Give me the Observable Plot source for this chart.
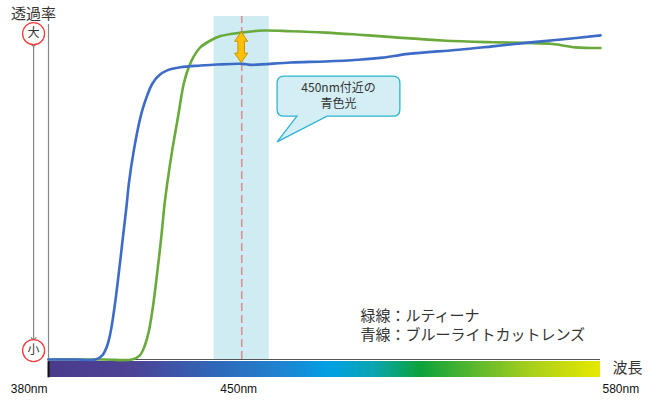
<!DOCTYPE html>
<html><head><meta charset="utf-8">
<script src="https://cdn.jsdelivr.net/npm/d3@7"></script>
<script src="https://cdn.jsdelivr.net/npm/@observablehq/plot@0.6"></script>
<style>
body{margin:0;background:#fff;}
svg{overflow:visible;}
</style></head>
<body><div id="chart"></div>
<script>
// Blue-light-cut lens transmittance (nm, %)
const blueNm = [380,390,397,399.5,401.3,402.5,404,405.5,406.9,408.3,409.1,410.9,413.3,415.1,417.6,420,423,427.8,435.1,441.2,450.3,453.2,467.7,480.4,492.3,501,510.4,528.6,540.9,552.8,564.8,580];
const blueT  = [0,0,0,1.2,4.1,8.0,15.7,25.4,35.2,44.9,51.2,60.9,70.6,75.5,80.4,82.8,84.3,85.2,85.7,86.0,86.2,85.9,86.6,86.9,87.4,88.0,89.1,90.3,91.3,92.3,93.2,94.5];
// Lutina lens transmittance
const greenNm = [380,400,410.3,413.1,414.9,416.3,417.9,419.4,420.8,422,423,424.8,426.9,429,430.8,432.6,435,438.7,442.3,449.6,457.9,467.7,480.4,492.3,504.6,522.8,540.9,552.8,562.6,570.9,580];
const greenT  = [0,0,0,1.2,4.1,8.0,15.7,25.4,35.2,44.9,51.2,60.9,70.6,80.4,85.2,88.3,91.0,93.0,94.3,95.3,95.9,95.7,95.3,94.7,94.0,93.0,92.5,92.3,92.0,91.0,90.8];
// spectrum colour stops
const specNm = [380,410,440,465,482,498,515,535,555,580];
const specColors = ["#4a3a8c","#4d4294","#2f66b8","#1e84d0","#00a0e4","#0aa6b0","#0ca23a","#5cb82e","#a8d01c","#e8e800"];
// highlighted band
const bandNm = [440,460];
const peakNm = 450;
const tickLabels = [{nm:380,label:"380nm"},{nm:450,label:"450nm"},{nm:580,label:"580nm"}];
const legendLines = ["緑線：ルティーナ","青線：ブルーライトカットレンズ"];
const calloutLines = ["450nm付近の","青色光"];

const blue = blueNm.map((x,i)=>({x,y:blueT[i]}));
const green = greenNm.map((x,i)=>({x,y:greenT[i]}));
const specScale = d3.scaleLinear().domain(specNm).range(specColors).interpolate(d3.interpolateRgb);
const spec = d3.range(380,580,1).map(w=>({x1:w,x2:Math.min(w+1.3,580),c:specScale(w+0.5)}));

const JP = "'Noto Sans CJK JP','Noto Sans',sans-serif";
const AR = "'Liberation Sans',Arial,sans-serif";

function calloutMark(index, scales){
  const sx = scales.x, sy = scales.y;
  const x0 = sx(463), x1 = sx(507.5), y0 = sy(82.5), y1 = sy(70.8), r = 7;
  const tx = sx(463), ty = sy(63.3), b0 = sx(470.2), b1 = sx(481.1);
  const d = `M${x0+r},${y0}H${x1-r}Q${x1},${y0} ${x1},${y0+r}V${y1-r}Q${x1},${y1} ${x1-r},${y1}H${b1}L${tx},${ty}L${b0},${y1}H${x0+r}Q${x0},${y1} ${x0},${y1-r}V${y0+r}Q${x0},${y0} ${x0+r},${y0}Z`;
  const g = d3.create("svg:g");
  g.append("path").attr("d",d).attr("fill","#d3eef5").attr("stroke","#2eb3cf").attr("stroke-width",1.3);
  return g.node();
}
function orangeArrow(index, scales){
  const cx = scales.x(peakNm), top = scales.y(95.4), bot = scales.y(86.4);
  const hw = 6.5, sw = 3.3, hl = 9.5;
  const d = `M${cx},${top}L${cx+hw},${top+hl}L${cx+sw},${top+hl}L${cx+sw},${bot-hl}L${cx+hw},${bot-hl}L${cx},${bot}L${cx-hw},${bot-hl}L${cx-sw},${bot-hl}L${cx-sw},${top+hl}L${cx-hw},${top+hl}Z`;
  const g = d3.create("svg:g");
  g.append("path").attr("d",d).attr("fill","#ffc000").attr("stroke","#c99400").attr("stroke-width",1);
  return g.node();
}

const plot = Plot.plot({
  width:650, height:404,
  marginLeft:48, marginRight:50, marginTop:16, marginBottom:45,
  x:{domain:[380,580], axis:null},
  y:{domain:[0,100], axis:null},
  color:{type:"identity"},
  style:{background:"#fff", fontFamily:JP, overflow:"visible"},
  marks:[
    Plot.rect([{x1:bandNm[0],x2:bandNm[1]}],{x1:"x1",x2:"x2",y1:0,y2:100,fill:"#cfecf3"}),
    Plot.ruleX([peakNm],{y1:0,y2:100,stroke:"#d98b8f",strokeWidth:1.5,strokeDasharray:"8,4"}),
    // spectrum bar
    Plot.rect(spec,{x1:"x1",x2:"x2",y1:-0.7,y2:-5.35,fill:"c",shapeRendering:"crispEdges"}),
    Plot.ruleX([380],{y1:-0.7,y2:-5.35,stroke:"#111",strokeWidth:2}),
    // axes lines
    Plot.ruleY([0],{x1:380,x2:580,stroke:"#555",strokeWidth:1.2}),
    Plot.ruleX([380],{y1:0,y2:97.7,stroke:"#888",strokeWidth:1.2}),
    // curves
    Plot.line(green,{x:"x",y:"y",stroke:"#6aaa3c",strokeWidth:2.6,curve:"catmull-rom"}),
    Plot.line(blue,{x:"x",y:"y",stroke:"#3d6cc8",strokeWidth:2.6,curve:"catmull-rom"}),
    orangeArrow,
    calloutMark,
    Plot.text(calloutLines,{x:485.1,y:(d,i)=>[79.0,74.3][i],text:d=>d,fontSize:12,fill:"#333",fontFamily:JP}),
    // y axis label, big/small markers
    Plot.text(["透過率"],{x:374.6,y:100.6,text:d=>d,fontSize:15,fill:"#333",fontFamily:JP}),
    Plot.link([{y1:91.6,y2:6.0}],{x1:374.6,x2:374.6,y1:"y1",y2:"y2",stroke:"#888",strokeWidth:1.2,markerStart:"arrow",markerEnd:"arrow"}),
    Plot.dot([95.0,2.6],{x:374.6,y:d=>d,r:11,fill:"#fff",stroke:"#f03c3c",strokeWidth:1.3}),
    Plot.text(["大","小"],{x:374.6,y:(d,i)=>[95.0,2.6][i],text:d=>d,fontSize:12,fill:"#333",fontFamily:JP}),
    // x axis label and tick labels
    Plot.text(["波長"],{x:589.8,y:-2.6,text:d=>d,fontSize:15,fill:"#333",fontFamily:JP}),
    Plot.text(tickLabels.slice(0,1),{x:"nm",y:-8.75,text:"label",textAnchor:"end",dx:-1,fontSize:12,fill:"#111",fontFamily:AR}),
    Plot.text(tickLabels.slice(1,2),{x:"nm",y:-8.75,text:"label",textAnchor:"middle",dx:-3,fontSize:12,fill:"#111",fontFamily:AR}),
    Plot.text(tickLabels.slice(2,3),{x:"nm",y:-8.75,text:"label",textAnchor:"start",dx:2,fontSize:12,fill:"#111",fontFamily:AR}),
    // legend text
    Plot.text(legendLines,{x:493.0,y:(d,i)=>[12.5,7.0][i],text:d=>d,textAnchor:"start",fontSize:15,fill:"#333",fontFamily:JP})
  ]
});
document.getElementById("chart").appendChild(plot);
</script></body></html>
